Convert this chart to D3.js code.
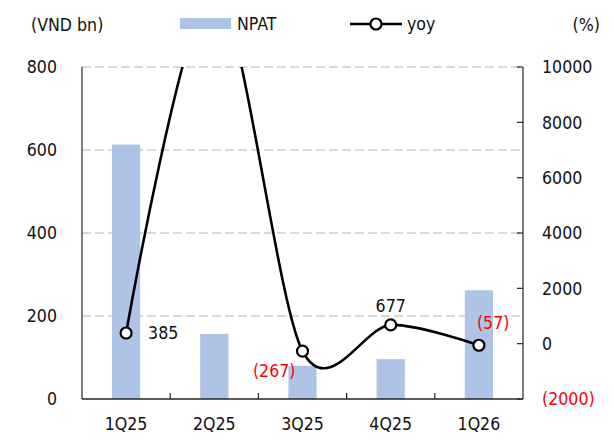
<!DOCTYPE html>
<html>
<head>
<meta charset="utf-8">
<script src="https://cdn.jsdelivr.net/npm/d3@7/dist/d3.min.js"></script>
<style>
  html, body { margin: 0; padding: 0; background: #fff; }
  svg { display: block; }
  text { font-family: "DejaVu Sans Condensed", "DejaVu Sans", sans-serif; font-stretch: condensed; fill: #111; }
</style>
</head>
<body>
<svg id="chart" width="614" height="446"></svg>
<script>
// Quarterly net profit after tax (VND bn) and its year-on-year change (%)
const categories = ["1Q25", "2Q25", "3Q25", "4Q25", "1Q26"];
const npat = [613, 157, 80, 96, 262];
const yoy = [385, 12800, -267, 677, -57];
const leftTicks = [0, 200, 400, 600, 800];
const rightTicks = [-2000, 0, 2000, 4000, 6000, 8000, 10000];

const svg = d3.select("#chart");
const plot = { left: 82, right: 523, top: 67, bottom: 399 };

const x = d3.scaleBand().domain(categories).range([plot.left, plot.right]).padding(0);
const yL = d3.scaleLinear().domain([0, 800]).range([plot.bottom, plot.top]);
const yR = d3.scaleLinear().domain([-2000, 10000]).range([plot.bottom, plot.top]);

const fmtPct = v => v < 0 ? "(" + Math.abs(v) + ")" : String(v);
const red = "#ff0000";
const fontSize = 17.6;

// dashed horizontal gridlines on the left scale
svg.append("g").selectAll("line")
  .data(leftTicks.filter(d => d > 0))
  .join("line")
  .attr("x1", plot.left).attr("x2", plot.right)
  .attr("y1", d => yL(d)).attr("y2", d => yL(d))
  .attr("stroke", "#d9d9d9").attr("stroke-width", 2)
  .attr("stroke-dasharray", "9,4");

// NPAT bars
const barW = x.bandwidth() * 0.32;
svg.append("g").selectAll("rect")
  .data(categories)
  .join("rect")
  .attr("x", (d) => x(d) + x.bandwidth() / 2 - barW / 2)
  .attr("y", (d, i) => yL(npat[i]))
  .attr("width", barW)
  .attr("height", (d, i) => yL(0) - yL(npat[i]))
  .attr("fill", "#aec3e6");

// axes lines
const axisColor = "#262626";
svg.append("line").attr("x1", plot.left).attr("x2", plot.left)
  .attr("y1", plot.top).attr("y2", plot.bottom).attr("stroke", axisColor).attr("stroke-width", 1.2);
svg.append("line").attr("x1", plot.right).attr("x2", plot.right)
  .attr("y1", plot.top).attr("y2", plot.bottom).attr("stroke", axisColor).attr("stroke-width", 1.2);
svg.append("line").attr("x1", plot.left).attr("x2", plot.right)
  .attr("y1", plot.bottom).attr("y2", plot.bottom).attr("stroke", axisColor).attr("stroke-width", 1.5);

// category boundary ticks on the x axis
svg.append("g").selectAll("line")
  .data(categories.slice(1))
  .join("line")
  .attr("x1", d => x(d)).attr("x2", d => x(d))
  .attr("y1", plot.bottom).attr("y2", plot.bottom - 6)
  .attr("stroke", axisColor).attr("stroke-width", 1.2);

// left axis labels
svg.append("g").selectAll("text")
  .data(leftTicks)
  .join("text")
  .attr("x", 57).attr("y", d => yL(d))
  .attr("dy", "0.36em")
  .attr("text-anchor", "end")
  .attr("font-size", fontSize)
  .text(d => d);

// right axis ticks and labels
svg.append("g").selectAll("line")
  .data(rightTicks)
  .join("line")
  .attr("x1", plot.right - 6).attr("x2", plot.right)
  .attr("y1", d => yR(d)).attr("y2", d => yR(d))
  .attr("stroke", axisColor).attr("stroke-width", 1.2);
svg.append("g").selectAll("text")
  .data(rightTicks)
  .join("text")
  .attr("x", 542).attr("y", d => yR(d))
  .attr("dy", "0.36em")
  .attr("font-size", fontSize)
  .style("fill", d => d < 0 ? red : null)
  .text(d => fmtPct(d));

// category labels
svg.append("g").selectAll("text")
  .data(categories)
  .join("text")
  .attr("x", d => x(d) + x.bandwidth() / 2)
  .attr("y", 430)
  .attr("text-anchor", "middle")
  .attr("font-size", fontSize)
  .text(d => d);

// unit captions
svg.append("text").attr("x", 31).attr("y", 31).attr("font-size", fontSize).text("(VND bn)");
svg.append("text").attr("x", 600).attr("y", 31).attr("text-anchor", "end").attr("font-size", fontSize).text("(%)");

// yoy smoothed line, clipped to the plot area
svg.append("clipPath").attr("id", "plotClip")
  .append("rect")
  .attr("x", plot.left).attr("y", plot.top)
  .attr("width", plot.right - plot.left).attr("height", plot.bottom - plot.top);

const pts = categories.map((c, i) => [x(c) + x.bandwidth() / 2, yR(yoy[i])]);
const line = d3.line().curve(d3.curveCardinal.tension(0.1));
svg.append("path")
  .attr("clip-path", "url(#plotClip)")
  .attr("d", line(pts))
  .attr("fill", "none")
  .attr("stroke", "#000")
  .attr("stroke-width", 2.6);

const visible = categories.map((c, i) => i).filter(i => yoy[i] <= 10000);
svg.append("g").selectAll("circle")
  .data(visible)
  .join("circle")
  .attr("cx", i => pts[i][0]).attr("cy", i => pts[i][1])
  .attr("r", 5.5)
  .attr("fill", "#fff").attr("stroke", "#000").attr("stroke-width", 2.2);

// yoy data labels, placed around each marker
const labelPlace = {
  "1Q25": { dx: 22, dy: 0, anchor: "start" },
  "3Q25": { dx: -7, dy: 20, anchor: "end" },
  "4Q25": { dx: 0, dy: -19, anchor: "middle" },
  "1Q26": { dx: -2, dy: -23, anchor: "start" }
};
svg.append("g").selectAll("text")
  .data(visible)
  .join("text")
  .attr("x", i => pts[i][0] + labelPlace[categories[i]].dx)
  .attr("y", i => pts[i][1] + labelPlace[categories[i]].dy)
  .attr("dy", "0.36em")
  .attr("text-anchor", i => labelPlace[categories[i]].anchor)
  .attr("font-size", fontSize)
  .style("fill", i => yoy[i] < 0 ? red : null)
  .text(i => fmtPct(yoy[i]));

// legend
const lg = svg.append("g");
lg.append("rect").attr("x", 180).attr("y", 18).attr("width", 51).attr("height", 11).attr("fill", "#aec3e6");
lg.append("text").attr("x", 237).attr("y", 24).attr("dy", "0.36em").attr("font-size", fontSize).text("NPAT");
lg.append("line").attr("x1", 350).attr("x2", 402).attr("y1", 24).attr("y2", 24).attr("stroke", "#000").attr("stroke-width", 2.6);
lg.append("circle").attr("cx", 376).attr("cy", 24).attr("r", 5.5).attr("fill", "#fff").attr("stroke", "#000").attr("stroke-width", 2.2);
lg.append("text").attr("x", 407).attr("y", 24).attr("dy", "0.36em").attr("font-size", fontSize).text("yoy");
</script>
</body>
</html>
